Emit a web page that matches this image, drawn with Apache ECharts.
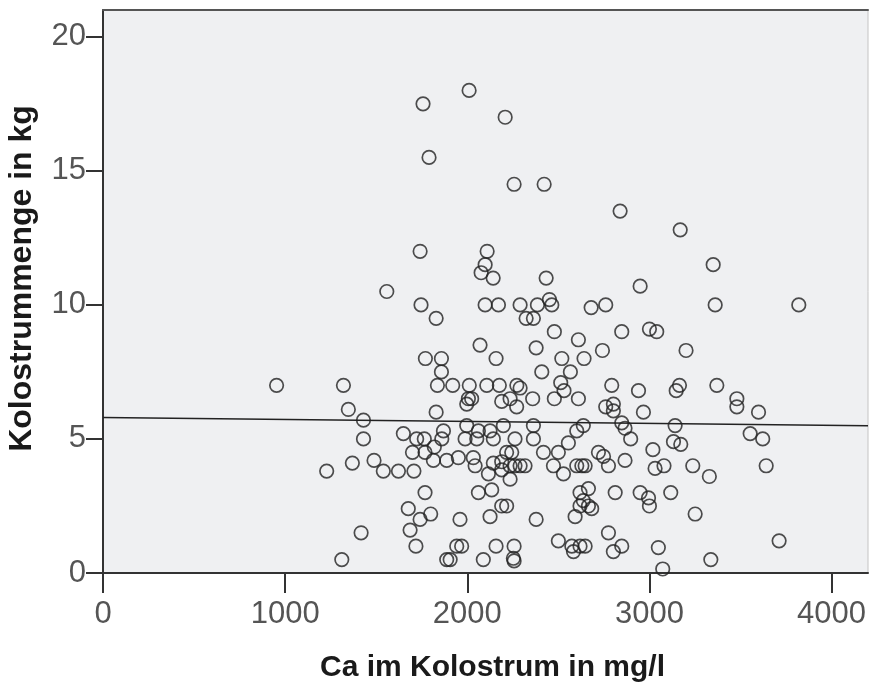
<!DOCTYPE html>
<html>
<head>
<meta charset="utf-8">
<script src="https://cdn.jsdelivr.net/npm/echarts@6/dist/echarts.min.js"></script>
<style>html,body{margin:0;padding:0;background:#fff}#c{width:869px;height:684px}</style>
</head>
<body>
<div id="c"></div>
<script>
var caValues = [2010,1757,2208,1790,2257,2422,2839,3169,1741,2109,
3350,2098,2076,2142,2433,2949,1558,1746,2098,2171,
2290,2385,2451,2464,2680,2760,3361,3820,1829,2323,
2363,2478,2610,2848,3000,3040,2070,2378,1770,1858,
2158,2519,2641,2742,3201,1858,2409,2566,953,1320,
1836,1920,2011,2107,2176,2272,2290,2513,2531,2793,
2940,3165,3147,3370,2006,2024,1997,2189,2235,2271,
2359,2478,2610,2760,2802,2967,3480,3480,3599,1347,
1430,1829,1430,1649,1722,1764,1869,1860,1699,1768,
1819,1814,1887,1228,1369,1488,1539,1622,1707,1768,
1676,1799,1741,1686,1417,1718,1311,1887,1997,2198,
2363,2637,2848,2061,2125,2601,2866,1988,2052,2143,
2262,2363,2555,2897,2418,2500,2720,2748,2775,2866,
2216,2244,1951,2033,2043,2143,2189,2235,2262,2290,
2317,2473,2601,2629,2647,2116,2189,2235,2528,2061,
2134,2619,2665,2812,2949,2995,2189,2216,2637,2665,
2683,2619,2592,1960,2125,2378,2775,2848,2802,2500,
2574,2583,2647,2619,1942,1969,1906,2158,2257,2088,
2253,2257,3141,3553,3622,3132,3172,3019,3031,3080,
3238,3329,3641,3000,3117,3251,3049,3337,3712,3073,
2802];
var kgValues = [18.0,17.5,17.0,15.5,14.5,14.5,13.5,12.8,12.0,12.0,
11.5,11.5,11.2,11.0,11.0,10.7,10.5,10.0,10.0,10.0,
10.0,10.0,10.2,10.0,9.9,10.0,10.0,10.0,9.5,9.5,
9.5,9.0,8.7,9.0,9.1,9.0,8.5,8.4,8.0,8.0,
8.0,8.0,8.0,8.3,8.3,7.5,7.5,7.5,7.0,7.0,
7.0,7.0,7.0,7.0,7.0,7.0,6.9,7.1,6.8,7.0,
6.8,7.0,6.8,7.0,6.5,6.5,6.3,6.4,6.5,6.2,
6.5,6.5,6.5,6.2,6.3,6.0,6.5,6.2,6.0,6.1,
5.7,6.0,5.0,5.2,5.0,5.0,5.3,5.0,4.5,4.5,
4.7,4.2,4.2,3.8,4.1,4.2,3.8,3.8,3.8,3.0,
2.4,2.2,2.0,1.6,1.5,1.0,0.5,0.5,5.5,5.5,
5.5,5.5,5.6,5.3,5.3,5.3,5.4,5.0,5.0,5.0,
5.0,5.0,4.85,5.0,4.5,4.5,4.5,4.35,4.0,4.2,
4.5,4.5,4.3,4.3,4.0,4.1,4.15,4.0,4.0,4.0,
4.0,4.0,4.0,4.0,4.0,3.7,3.85,3.5,3.7,3.0,
3.1,3.0,3.15,3.0,3.0,2.8,2.5,2.5,2.7,2.5,
2.4,2.5,2.1,2.0,2.1,2.0,1.5,1.0,0.8,1.2,
1.0,0.8,1.0,1.0,1.0,1.0,0.5,1.0,1.0,0.5,
0.55,0.45,5.5,5.2,5.0,4.9,4.8,4.6,3.9,4.0,
4.0,3.6,4.0,2.5,3.0,2.2,0.95,0.5,1.2,0.15,
6.05];
var fitX = [0, 4200];
var fitY = [5.8, 5.49];
var xTicks = [0, 1000, 2000, 3000, 4000];
var yTicks = [0, 5, 10, 15, 20];
var xName = 'Ca im Kolostrum in mg/l';
var yName = 'Kolostrummenge in kg';

var points = caValues.map(function (v, i) { return [v, kgValues[i]]; });
var fitLine = fitX.map(function (v, i) { return [v, fitY[i]]; });

var chart = echarts.init(document.getElementById('c'), null, {renderer: 'canvas'});
var fam = 'Liberation Sans, Arial, sans-serif';
function plain(v) { return String(v); }
chart.setOption({
  animation: false,
  backgroundColor: '#ffffff',
  grid: {left: 103, top: 10, right: 1, bottom: 111, outerBoundsMode: 'none', containLabel: false,
    show: true, backgroundColor: '#EFF0F2', borderColor: '#c4c4c4', borderWidth: 1},
  xAxis: [{
    type: 'value', min: 0, max: 4200, position: 'bottom',
    name: xName, nameLocation: 'middle', nameGap: 80,
    nameTextStyle: {fontFamily: fam, fontSize: 30, fontWeight: 'bold', color: '#1a1a1a', padding: [0, 0, 0, 14]},
    axisLine: {show: true, onZero: false, lineStyle: {color: '#333', width: 2}},
    axisTick: {show: true, length: 20, customValues: xTicks, lineStyle: {color: '#333', width: 2}},
    axisLabel: {customValues: xTicks, formatter: plain, margin: 26, fontFamily: fam, fontSize: 31, color: '#555'},
    splitLine: {show: false}
  }, {
    type: 'value', min: 0, max: 4200, position: 'top',
    axisLine: {show: true, onZero: false, lineStyle: {color: '#555', width: 2}},
    axisTick: {show: false}, axisLabel: {show: false}, splitLine: {show: false}
  }],
  yAxis: {
    type: 'value', min: 0, max: 21,
    name: yName, nameLocation: 'middle', nameGap: 65,
    nameTextStyle: {fontFamily: fam, fontSize: 32, fontWeight: 'bold', color: '#1a1a1a', padding: [0, 0, 0, 26]},
    axisLine: {show: true, onZero: false, lineStyle: {color: '#333', width: 2}},
    axisTick: {show: true, length: 17, customValues: yTicks, lineStyle: {color: '#333', width: 2}},
    axisLabel: {customValues: yTicks, formatter: plain, margin: 17, fontFamily: fam, fontSize: 31, color: '#555'},
    splitLine: {show: false}
  },
  series: [{
    type: 'scatter', xAxisIndex: 0, data: points, symbol: 'circle', symbolSize: 13.5,
    itemStyle: {color: 'rgba(0,0,0,0)', borderColor: '#222', borderWidth: 1.7},
    z: 3
  }, {
    type: 'line', xAxisIndex: 0, data: fitLine, symbol: 'none',
    lineStyle: {color: '#222', width: 1.6}, z: 2
  }]
});
</script>
</body>
</html>
